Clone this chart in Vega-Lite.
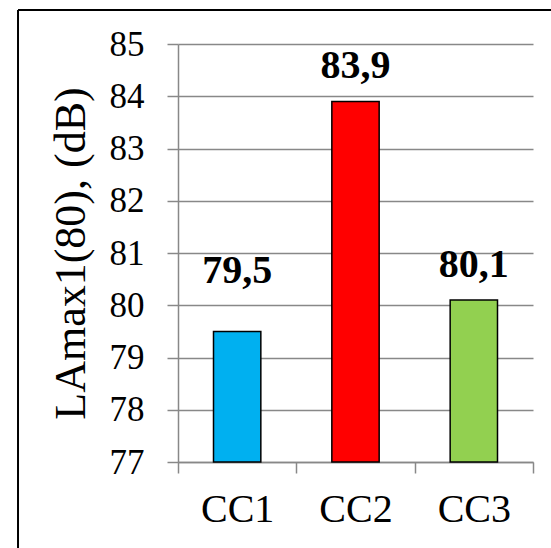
{
  "$schema": "https://vega.github.io/schema/vega-lite/v6.json",
  "width": 355,
  "height": 418,
  "autosize": {"type": "none"},
  "padding": {"left": 178, "top": 44, "right": 18, "bottom": 86},
  "background": "white",
  "data": {
    "values": [
      {"cc": "CC1", "v": 79.5},
      {"cc": "CC2", "v": 83.9},
      {"cc": "CC3", "v": 80.1}
    ]
  },
  "config": {
    "font": "Liberation Serif",
    "view": {"stroke": null},
    "locale": {
      "number": {"decimal": ",", "thousands": " ", "grouping": [3], "currency": ["", ""]}
    },
    "text": {"font": "Liberation Serif"},
    "axis": {
      "labelFont": "Liberation Serif",
      "titleFont": "Liberation Serif",
      "domainColor": "#888888",
      "domainWidth": 1.5,
      "ticks": true,
      "tickColor": "#888888",
      "tickWidth": 1.5,
      "tickSize": 11,
      "labelColor": "black",
      "titleColor": "black",
      "titleFontWeight": "normal"
    }
  },
  "encoding": {
    "x": {
      "field": "cc",
      "type": "nominal",
      "scale": {"paddingInner": 0, "paddingOuter": 0},
      "axis": {
        "title": null,
        "labelAngle": 0,
        "labelFontSize": 40,
        "labelPadding": 16,
        "ticks": true,
        "tickBand": "extent",
        "grid": false
      }
    }
  },
  "layer": [
    {
      "mark": {"type": "bar", "stroke": "black", "strokeWidth": 1.5, "width": {"band": 0.4}},
      "encoding": {
        "y": {
          "field": "v",
          "type": "quantitative",
          "scale": {"domain": [77, 85], "nice": false, "zero": false},
          "axis": {
            "values": [77, 78, 79, 80, 81, 82, 83, 84, 85],
            "format": "d",
            "grid": true,
            "gridColor": "#888888",
            "gridWidth": 1.5,
            "labelFontSize": 35,
            "labelPadding": 23,
            "title": "LAmax1(80), (dB)",
            "titleFontSize": 44,
            "titlePadding": 16
          }
        },
        "y2": {"datum": 77},
        "color": {
          "field": "cc",
          "type": "nominal",
          "scale": {"domain": ["CC1", "CC2", "CC3"], "range": ["#00B0F0", "#FF0000", "#92D050"]},
          "legend": null
        }
      }
    },
    {
      "transform": [{"filter": "datum.cc !== 'CC1'"}],
      "mark": {"type": "text", "font": "Liberation Serif", "fontSize": 40, "fontWeight": "bold", "baseline": "alphabetic", "dy": -23, "color": "black"},
      "encoding": {
        "y": {"field": "v", "type": "quantitative"},
        "text": {"field": "v", "type": "quantitative", "format": ".1f"}
      }
    },
    {
      "transform": [{"filter": "datum.cc === 'CC1'"}],
      "mark": {"type": "text", "font": "Liberation Serif", "fontSize": 40, "fontWeight": "bold", "baseline": "alphabetic", "dy": -48, "color": "black"},
      "encoding": {
        "y": {"field": "v", "type": "quantitative"},
        "text": {"field": "v", "type": "quantitative", "format": ".1f"}
      }
    },
    {
      "data": {"values": [{}]},
      "mark": {"type": "rule", "color": "black", "strokeWidth": 2},
      "encoding": {
        "x": {"datum": "CC1", "type": "nominal", "bandPosition": -1.352},
        "x2": {"datum": "CC3", "bandPosition": 1.3},
        "y": {"datum": 85.65, "type": "quantitative"}
      }
    },
    {
      "data": {"values": [{}]},
      "mark": {"type": "rule", "color": "black", "strokeWidth": 2},
      "encoding": {
        "x": {"datum": "CC1", "type": "nominal", "bandPosition": -1.352},
        "y": {"datum": 85.65, "type": "quantitative"},
        "y2": {"datum": 75.0}
      }
    }
  ]
}
